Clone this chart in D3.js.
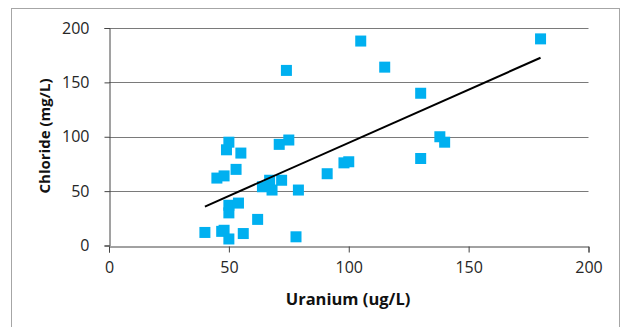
<html>
<style>
    body {
        margin: 0;
        background: #fff;
    }

    text {
        font-family: "Open Sans", sans-serif;
        fill: #262626;
    }

    .tick text {
        font-size: 16px;
    }

    .title {
        font-weight: bold;
        fill: #111;
    }
</style>

<head>
    <title>Uranium vs Chloride</title>
    <script type="text/javascript" src="https://d3js.org/d3.v7.min.js"></script>
</head>

<body>
    <script>
        var width = 622;
        var height = 327;

        // data
        var uranium = [40, 45, 47, 48, 48, 49, 50, 50, 50, 50, 53, 54, 55, 56, 62, 64, 67, 68,
            71, 72, 75, 74, 78, 79, 91, 98, 100, 105, 115, 130, 130, 138, 140, 180];
        var chloride = [12, 62, 13, 14, 64, 88, 95, 37, 30, 6, 70, 39, 85, 11, 24, 54, 60, 51,
            93, 60, 97, 161, 8, 51, 66, 76, 77, 188, 164, 140, 80, 100, 95, 190];
        var xTicks = [0, 50, 100, 150, 200];
        var yTicks = [0, 50, 100, 150, 200];

        var points = uranium.map(function (u, i) {
            return { u: u, cl: chloride[i] };
        });

        var svg = d3.select("body")
            .append("svg")
            .attr("width", width)
            .attr("height", height);

        // chart border
        svg.append("rect")
            .attr("x", 11.5)
            .attr("y", 8.5)
            .attr("width", 608)
            .attr("height", 330)
            .attr("fill", "#fff")
            .attr("stroke", "#a6a6a6");

        var x = d3.scaleLinear().domain([0, 200]).range([109, 588.5]);
        var y = d3.scaleLinear().domain([0, 200]).range([245.5, 28]);

        // horizontal gridlines
        svg.append("g")
            .selectAll("line")
            .data(yTicks.slice(1))
            .enter()
            .append("line")
            .attr("x1", x(0))
            .attr("x2", x(200))
            .attr("y1", function (d) { return Math.round(y(d)) + 0.5; })
            .attr("y2", function (d) { return Math.round(y(d)) + 0.5; })
            .attr("stroke", "#7a7a7a")
            .attr("stroke-width", 1);

        // axes
        var xAxis = svg.append("g")
            .attr("transform", "translate(0," + (Math.round(y(0)) + 0.5) + ")")
            .call(d3.axisBottom(x).tickValues(xTicks).tickSize(6).tickPadding(9));
        var yAxis = svg.append("g")
            .attr("transform", "translate(" + (Math.round(x(0)) + 0.5) + ",0)")
            .call(d3.axisLeft(y).tickValues(yTicks).tickSize(5).tickPadding(15));

        [xAxis, yAxis].forEach(function (a) {
            a.select(".domain").attr("stroke", "#444");
            a.selectAll(".tick line").attr("stroke", "#444");
            a.selectAll(".tick text").attr("font-family", null).attr("font-size", null);
        });

        // scatter squares
        var s = 11;
        svg.append("g")
            .selectAll("rect")
            .data(points)
            .enter()
            .append("rect")
            .attr("x", function (d) { return x(d.u) - s / 2; })
            .attr("y", function (d) { return y(d.cl) - s / 2; })
            .attr("width", s)
            .attr("height", s)
            .attr("fill", "#00b0f0");

        // linear trendline (least squares)
        var mu = d3.mean(points, function (d) { return d.u; });
        var mc = d3.mean(points, function (d) { return d.cl; });
        var sxy = d3.sum(points, function (d) { return (d.u - mu) * (d.cl - mc); });
        var sxx = d3.sum(points, function (d) { return (d.u - mu) * (d.u - mu); });
        var slope = sxy / sxx;
        var intercept = mc - slope * mu;
        var ext = d3.extent(uranium);

        svg.append("line")
            .attr("x1", x(ext[0]))
            .attr("y1", y(intercept + slope * ext[0]))
            .attr("x2", x(ext[1]))
            .attr("y2", y(intercept + slope * ext[1]))
            .attr("stroke", "#000")
            .attr("stroke-width", 2);

        // axis titles
        svg.append("text")
            .attr("class", "title")
            .attr("x", 348)
            .attr("y", 305)
            .attr("font-size", 16.5)
            .attr("text-anchor", "middle")
            .text("Uranium (ug/L)");

        svg.append("text")
            .attr("class", "title")
            .attr("transform", "translate(50,136) rotate(-90)")
            .attr("font-size", 15)
            .attr("text-anchor", "middle")
            .text("Chloride (mg/L)");
    </script>
</body>

</html>
